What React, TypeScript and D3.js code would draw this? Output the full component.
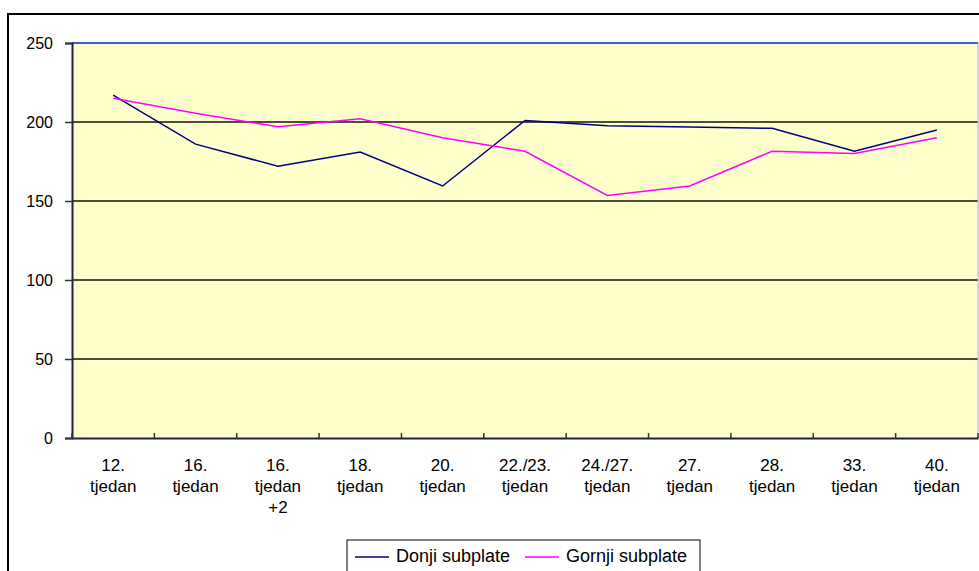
import { useEffect, useRef } from "react";
import * as d3 from "d3";

const categories = [
  "12.|tjedan",
  "16.|tjedan",
  "16.|tjedan|+2",
  "18.|tjedan",
  "20.|tjedan",
  "22./23.|tjedan",
  "24./27.|tjedan",
  "27.|tjedan",
  "28.|tjedan",
  "33.|tjedan",
  "40.|tjedan",
];
const donji = [217, 186, 172, 181, 159.5, 201, 197.7, 196.8, 196, 181.5, 195];
const gornji = [215, 205.5, 197, 202, 190, 181.5, 153.5, 159.5, 181.5, 180, 190];
const yTicks = [0, 50, 100, 150, 200, 250];

const series = [
  { name: "Donji subplate", values: donji, color: "#000080" },
  { name: "Gornji subplate", values: gornji, color: "#ff00ff" },
];

const App = () => {
  const svgRef = useRef<SVGSVGElement | null>(null);

  useEffect(() => {
    if (!svgRef.current) return;
    const svg = d3.select(svgRef.current);
    svg.selectAll("*").remove();

    const font = "'Liberation Sans', Arial, sans-serif";
    const plot = { left: 72, top: 43, right: 978, bottom: 438 };

    // outer chart frame (runs off the right and bottom edges)
    svg.append("rect")
      .attr("x", 8).attr("y", 14)
      .attr("width", 1000).attr("height", 600)
      .attr("fill", "#fff").attr("stroke", "#000").attr("stroke-width", 2);

    const x = d3.scaleBand<string>()
      .domain(categories)
      .range([plot.left, plot.right]);

    const y = d3.scaleLinear()
      .domain([0, 250])
      .range([plot.bottom, plot.top]);

    svg.append("rect")
      .attr("x", plot.left).attr("y", plot.top)
      .attr("width", plot.right - plot.left).attr("height", plot.bottom - plot.top)
      .attr("fill", "#ffffcc");

    // gridlines
    svg.append("g")
      .selectAll("line")
      .data(yTicks.filter(t => t > 0 && t < 250))
      .join("line")
      .attr("x1", plot.left).attr("x2", plot.right)
      .attr("y1", d => y(d)).attr("y2", d => y(d))
      .attr("stroke", "#4d4d3a").attr("stroke-width", 2);

    // top and right borders
    svg.append("line")
      .attr("x1", plot.left).attr("x2", plot.right)
      .attr("y1", y(250)).attr("y2", y(250))
      .attr("stroke", "#3d5fc8").attr("stroke-width", 2);
    svg.append("line")
      .attr("x1", plot.right).attr("x2", plot.right)
      .attr("y1", plot.top).attr("y2", plot.bottom)
      .attr("stroke", "#9fb2e0").attr("stroke-width", 1);

    // y axis
    const yAxis = svg.append("g")
      .attr("transform", `translate(${plot.left},0)`)
      .call(d3.axisLeft(y).tickValues(yTicks).tickSize(7).tickPadding(12));
    yAxis.select(".domain").attr("stroke", "#202040").attr("stroke-width", 2);
    yAxis.selectAll(".tick line").attr("stroke", "#333").attr("stroke-width", 1.5);
    yAxis.selectAll("text")
      .attr("font-family", font).attr("font-size", 16).attr("fill", "#000");

    // x axis
    const xAxis = svg.append("g")
      .attr("transform", `translate(0,${plot.bottom})`)
      .call(d3.axisBottom(x).tickSize(0).tickFormat(() => ""));
    xAxis.select(".domain").attr("stroke", "#202040").attr("stroke-width", 2);
    xAxis.selectAll(".tick").remove();

    const bounds = categories.map(c => x(c)!).concat([plot.right]);
    svg.append("g")
      .selectAll("line")
      .data(bounds)
      .join("line")
      .attr("x1", d => d).attr("x2", d => d)
      .attr("y1", plot.bottom - 5).attr("y2", plot.bottom)
      .attr("stroke", "#333").attr("stroke-width", 1.5);

    const labels = svg.append("g")
      .attr("font-family", font).attr("font-size", 17).attr("fill", "#000")
      .attr("text-anchor", "middle");
    categories.forEach(c => {
      const cx = x(c)! + x.bandwidth() / 2;
      const t = labels.append("text").attr("x", cx);
      c.split("|").forEach((part, i) => {
        t.append("tspan")
          .attr("x", cx)
          .attr("y", plot.bottom + 33 + i * 21)
          .text(part);
      });
    });

    // lines
    const line = d3.line<number>()
      .x((_, i) => x(categories[i])! + x.bandwidth() / 2)
      .y(d => y(d));

    series.forEach(s => {
      svg.append("path")
        .datum(s.values)
        .attr("fill", "none")
        .attr("stroke", s.color)
        .attr("stroke-width", 1.5)
        .attr("d", line);
    });

    // legend
    const lg = svg.append("g");
    lg.append("rect")
      .attr("x", 347).attr("y", 540)
      .attr("width", 353).attr("height", 60)
      .attr("fill", "#fff").attr("stroke", "#000").attr("stroke-width", 1);
    const legendX = [355, 525];
    series.forEach((s, i) => {
      lg.append("line")
        .attr("x1", legendX[i]).attr("x2", legendX[i] + 34)
        .attr("y1", 557).attr("y2", 557)
        .attr("stroke", s.color).attr("stroke-width", 1.5);
      lg.append("text")
        .attr("x", legendX[i] + 41).attr("y", 562)
        .attr("font-family", font).attr("font-size", 18).attr("fill", "#000")
        .text(s.name);
    });
  }, []);

  return (
    <svg
      ref={svgRef}
      width={979}
      height={571}
      style={{ position: "absolute", left: 0, top: 0 }}
    />
  );
};

export default App;
